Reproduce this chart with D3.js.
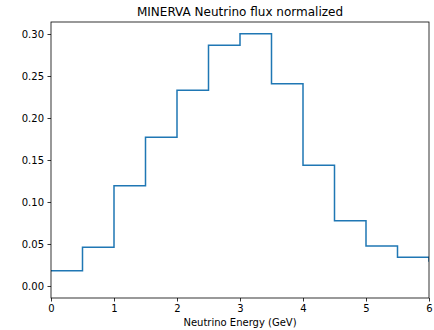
<!DOCTYPE html>
<html>
<head>
<meta charset="utf-8">
<script src="https://cdn.jsdelivr.net/npm/d3@7"></script>
<style>
  body { margin: 0; background: #fff; }
  text { font-family: "DejaVu Sans", sans-serif; }
</style>
</head>
<body>
<svg id="chart"></svg>
<script>
// MINERVA neutrino flux, normalized, drawn as a step line

const energyEdges = [0, 0.5, 1, 1.5, 2, 2.5, 3, 3.5, 4, 4.5, 5, 5.5, 6];
const fluxValues = [0.0182, 0.046, 0.1194, 0.177, 0.233, 0.2865, 0.3004, 0.2408, 0.1437, 0.0778, 0.0476, 0.0341, 0.029];
const xTicks = [0, 1, 2, 3, 4, 5, 6];
const yTicks = [0, 0.05, 0.10, 0.15, 0.20, 0.25, 0.30];

const width = 434;
const height = 330;
const margin = { top: 22, right: 5, bottom: 32, left: 51 };

const svg = d3.select("#chart")
    .attr("width", width)
    .attr("height", height);

const x = d3.scaleLinear()
    .domain([0, 6])
    .range([margin.left, width - margin.right]);

const y = d3.scaleLinear()
    .domain([-0.0143, 0.3143])
    .range([height - margin.bottom, margin.top]);

svg.append("clipPath")
    .attr("id", "plot-clip")
    .append("rect")
    .attr("x", margin.left)
    .attr("y", margin.top)
    .attr("width", width - margin.left - margin.right)
    .attr("height", height - margin.top - margin.bottom);

const points = energyEdges.map((e, i) => [e, fluxValues[i]]);

const line = d3.line()
    .x(d => x(d[0]))
    .y(d => y(d[1]))
    .curve(d3.curveStepAfter);

svg.append("path")
    .datum(points)
    .attr("clip-path", "url(#plot-clip)")
    .attr("d", line)
    .attr("fill", "none")
    .attr("stroke", "#1f77b4")
    .attr("stroke-width", 1.5);

// axes
const xAxis = svg.append("g")
    .attr("transform", `translate(0,${height - margin.bottom})`)
    .call(d3.axisBottom(x).tickValues(xTicks).tickFormat(d3.format("d")).tickSize(3.5).tickPadding(3.5));

const yAxis = svg.append("g")
    .attr("transform", `translate(${margin.left},0)`)
    .call(d3.axisLeft(y).tickValues(yTicks).tickFormat(d3.format(".2f")).tickSize(3.5).tickPadding(3.5));

[xAxis, yAxis].forEach(g => {
    g.select(".domain").remove();
    g.selectAll("line").attr("stroke", "#000").attr("stroke-width", 0.8);
    g.selectAll("text").attr("font-size", 10).attr("fill", "#000")
        .attr("font-family", "DejaVu Sans, sans-serif");
});

// frame
svg.append("rect")
    .attr("x", margin.left)
    .attr("y", margin.top)
    .attr("width", width - margin.left - margin.right)
    .attr("height", height - margin.top - margin.bottom)
    .attr("fill", "none")
    .attr("stroke", "#000")
    .attr("stroke-width", 0.8);

svg.append("text")
    .attr("x", (margin.left + width - margin.right) / 2)
    .attr("y", 16)
    .attr("text-anchor", "middle")
    .attr("font-size", 12)
    .text("MINERVA Neutrino flux normalized");

svg.append("text")
    .attr("x", (margin.left + width - margin.right) / 2)
    .attr("y", 326)
    .attr("text-anchor", "middle")
    .attr("font-size", 10)
    .text("Neutrino Energy (GeV)");
</script>
</body>
</html>
